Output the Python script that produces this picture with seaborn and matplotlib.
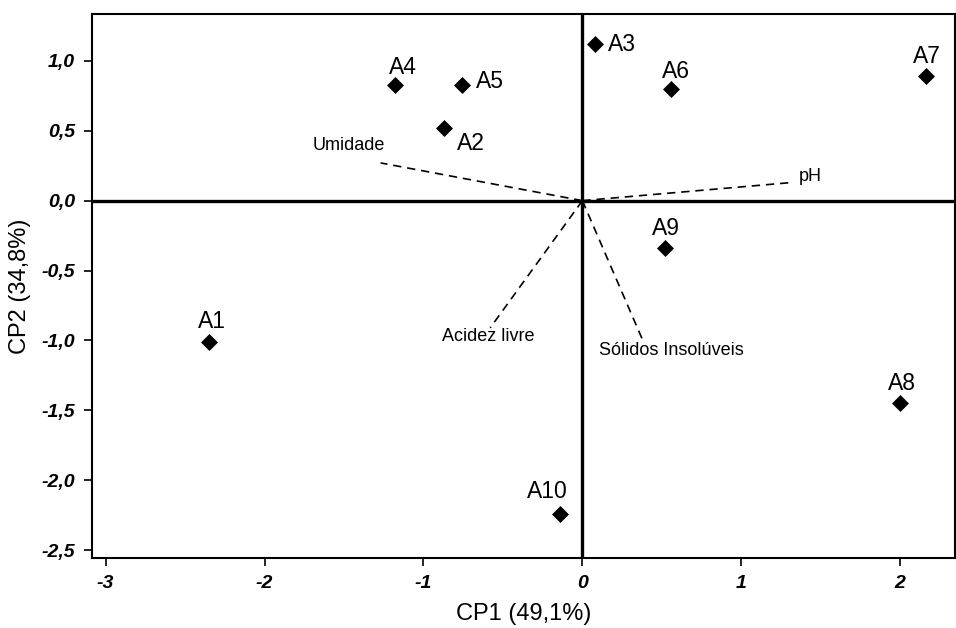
import matplotlib
matplotlib.use("Agg")
import matplotlib.pyplot as plt
import seaborn as sns
import pandas as pd

# Sample scores
samples = ["A1", "A2", "A3", "A4", "A5", "A6", "A7", "A8", "A9", "A10"]
cp1 = [-2.35, -0.87, 0.08, -1.18, -0.76, 0.56, 2.16, 2.00, 0.52, -0.14]
cp2 = [-1.01, 0.52, 1.12, 0.83, 0.83, 0.80, 0.89, -1.45, -0.34, -2.24]

# Variable loadings (line end points)
variables = ["Umidade", "pH", "Acidez livre", "Sólidos Insolúveis"]
load_x = [-1.27, 1.32, -0.58, 0.38]
load_y = [0.27, 0.13, -0.91, -1.00]

x_ticks = [-3, -2, -1, 0, 1, 2]
x_ticklabels = ["-3", "-2", "-1", "0", "1", "2"]
y_ticks = [1.0, 0.5, 0.0, -0.5, -1.0, -1.5, -2.0, -2.5]
y_ticklabels = ["1,0", "0,5", "0,0", "-0,5", "-1,0", "-1,5", "-2,0", "-2,5"]

sns.set_style("white")
plt.rcParams["font.family"] = ["Liberation Sans", "DejaVu Sans"]
plt.rcParams["text.color"] = "black"
plt.rcParams["axes.labelcolor"] = "black"
plt.rcParams["xtick.color"] = "black"
plt.rcParams["ytick.color"] = "black"

fig = plt.figure(figsize=(9.56, 6.28), dpi=100)
ax = fig.add_axes([0.0962, 0.1115, 0.9025, 0.8663])

df = pd.DataFrame({"CP1": cp1, "CP2": cp2, "amostra": samples})

# zero reference lines
ax.axhline(0, color="black", lw=2.4, zorder=1)
ax.axvline(0, color="black", lw=2.4, zorder=1)

# loading vectors
for lx, ly in zip(load_x, load_y):
    ax.plot([0, lx], [0, ly], color="black", lw=1.2, ls=(0, (5, 3.5)), zorder=2)

sns.scatterplot(data=df, x="CP1", y="CP2", marker="D", s=75, color="black",
                edgecolor="black", linewidth=0, ax=ax, zorder=3)

# sample labels (offsets in points)
offsets = {
    "A1": (2, 6, "center", "bottom"),
    "A2": (9, -3, "left", "top"),
    "A3": (9, 0, "left", "center"),
    "A4": (6, 4, "center", "bottom"),
    "A5": (10, 2, "left", "center"),
    "A6": (3, 4, "center", "bottom"),
    "A7": (1, 6, "center", "bottom"),
    "A8": (1, 6, "center", "bottom"),
    "A9": (1, 6, "center", "bottom"),
    "A10": (-9, 8, "center", "bottom"),
}
for s, x, y in zip(samples, cp1, cp2):
    dx, dy, ha, va = offsets[s]
    ax.annotate(s, (x, y), xytext=(dx, dy), textcoords="offset points",
                ha=ha, va=va, fontsize=16.5, color="black", zorder=4)

# variable labels
var_pos = {
    "Umidade": (-1.47, 0.395, "center"),
    "pH": (1.36, 0.17, "left"),
    "Acidez livre": (-0.59, -0.97, "center"),
    "Sólidos Insolúveis": (0.56, -1.07, "center"),
}
for v in variables:
    tx, ty, ha = var_pos[v]
    ax.text(tx, ty, v, ha=ha, va="center", fontsize=13, color="black", zorder=4)

ax.set_xlim(-3.086, 2.343)
ax.set_ylim(-2.557, 1.336)
ax.set_xticks(x_ticks)
ax.set_xticklabels(x_ticklabels, fontsize=14, fontweight="bold", fontstyle="italic")
ax.set_yticks(y_ticks)
ax.set_yticklabels(y_ticklabels, fontsize=14, fontweight="bold", fontstyle="italic")
ax.tick_params(axis="both", direction="out", length=6, width=1.2, color="black",
               labelcolor="black", bottom=True, left=True, pad=6)

for sp in ax.spines.values():
    sp.set_color("black")
    sp.set_linewidth(1.5)

ax.set_xlabel("CP1 (49,1%)", fontsize=17, labelpad=8, color="black")
ax.set_ylabel("CP2 (34,8%)", fontsize=17, labelpad=8, color="black")
ax.grid(False)

fig.savefig("out.png", dpi=100)
